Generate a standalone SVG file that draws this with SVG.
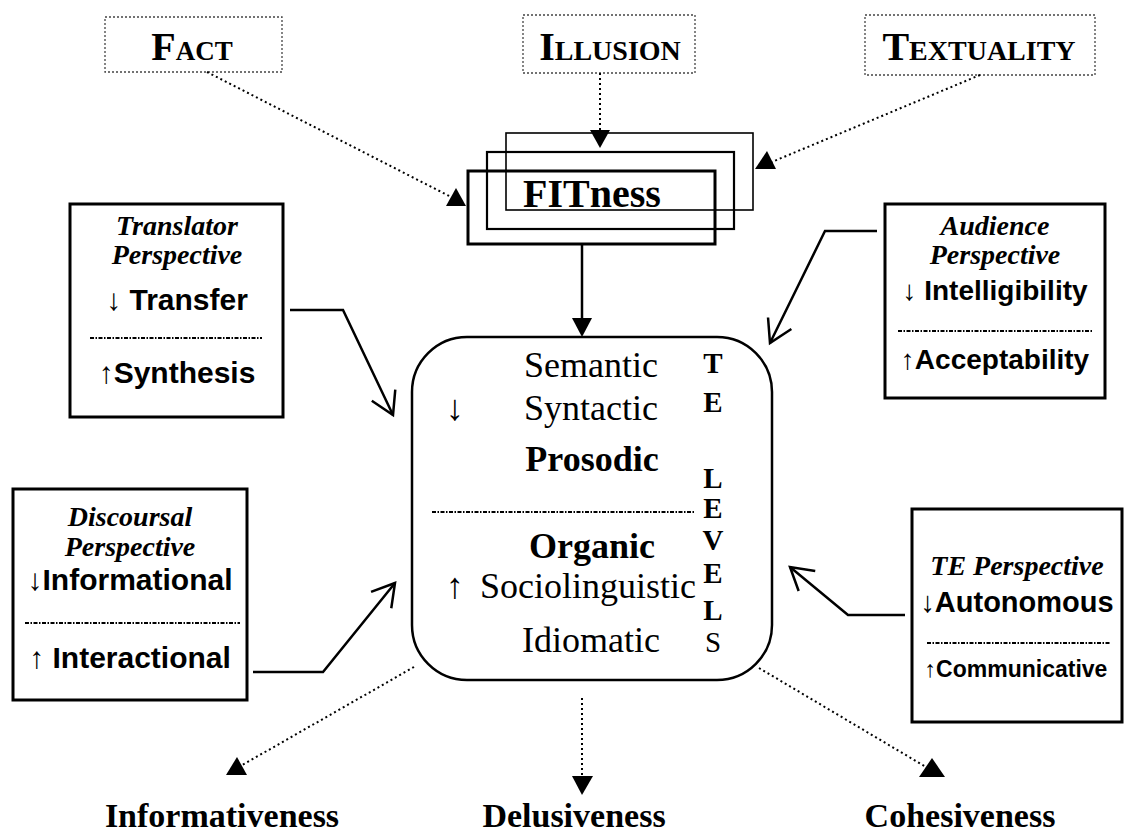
<svg xmlns="http://www.w3.org/2000/svg" width="1126" height="837" viewBox="0 0 1126 837">
<defs>
<style>
.lbl{fill:none;stroke:#444;stroke-width:1.3;stroke-dasharray:2 2}
.box{fill:none;stroke:#000;stroke-width:3}
.sep{stroke:#000;stroke-width:2.2;stroke-dasharray:4 1.5 1.5 1.5}
.dot{fill:none;stroke:#000;stroke-width:2;stroke-dasharray:2 3}
.solid{fill:none;stroke:#000;stroke-width:2.5}
.fit{fill:none;stroke:#000}
.tri{fill:#000}
.cap{font-family:"Liberation Serif","Times New Roman",serif;font-weight:bold;fill:#000;text-anchor:middle}
.ital{font-family:"Liberation Serif","Times New Roman",serif;font-style:italic;font-weight:bold;font-size:28px;text-anchor:middle}
.sans{font-family:"Liberation Sans",Arial,"DejaVu Sans",sans-serif;font-weight:bold;font-size:30px;text-anchor:middle}
.ser{font-family:"Liberation Serif","Times New Roman","DejaVu Serif",serif;font-size:36px;text-anchor:middle}
.lev{font-family:"Liberation Serif","Times New Roman",serif;font-weight:bold;font-size:29px;text-anchor:middle}
.out{font-family:"Liberation Serif","Times New Roman",serif;font-weight:bold;font-size:34px;text-anchor:middle}
</style>
<marker id="open" viewBox="0 0 26 30" refX="24" refY="15" markerWidth="26" markerHeight="30" markerUnits="userSpaceOnUse" orient="auto" overflow="visible">
<path d="M2,2 L24,15 L2,28" fill="none" stroke="#000" stroke-width="2.5"/>
</marker>
</defs>
<rect width="1126" height="837" fill="#fff"/>

<g id="fact">
<rect class="lbl" x="105" y="17" width="177" height="55"/>
<text class="cap" x="192" y="60"><tspan font-size="40">F</tspan><tspan font-size="27">ACT</tspan></text>
</g>
<g id="illusion">
<rect class="lbl" x="523" y="15" width="172" height="58"/>
<text class="cap" x="610" y="60"><tspan font-size="40">I</tspan><tspan font-size="28">LLUSION</tspan></text>
</g>
<g id="textuality">
<rect class="lbl" x="865" y="15" width="230" height="60"/>
<text class="cap" x="979" y="60"><tspan font-size="40">T</tspan><tspan font-size="28">EXTUALITY</tspan></text>
</g>

<g id="fitness">
<rect class="fit" x="506" y="133" width="247" height="77" stroke-width="1.6"/>
<rect class="fit" x="487" y="152" width="247" height="77" stroke-width="2.2"/>
<rect class="fit" x="468" y="171" width="247" height="73" stroke-width="3"/>
<text class="cap" x="592" y="207" font-size="40">FITness</text>
</g>

<g id="translator">
<rect class="box" x="70" y="204" width="213" height="213"/>
<text class="ital" x="177" y="235">Translator</text>
<text class="ital" x="177" y="264">Perspective</text>
<text class="sans" x="177" y="310">↓ Transfer</text>
<line class="sep" x1="90" y1="338" x2="262" y2="338"/>
<text class="sans" x="177" y="383">↑Synthesis</text>
</g>

<g id="audience">
<rect class="box" x="885" y="204" width="220" height="194"/>
<text class="ital" x="995" y="235">Audience</text>
<text class="ital" x="995" y="264">Perspective</text>
<text class="sans" x="995" y="300" style="font-size:28px">↓ Intelligibility</text>
<line class="sep" x1="898" y1="331" x2="1093" y2="331"/>
<text class="sans" x="995" y="369" style="font-size:28px">↑Acceptability</text>
</g>

<g id="discoursal">
<rect class="box" x="13" y="489" width="234" height="211"/>
<text class="ital" x="130" y="526">Discoursal</text>
<text class="ital" x="130" y="556">Perspective</text>
<text class="sans" x="130" y="590">↓Informational</text>
<line class="sep" x1="25" y1="623" x2="240" y2="623"/>
<text class="sans" x="130" y="668">↑ Interactional</text>
</g>

<g id="te-perspective">
<rect class="box" x="912" y="509" width="210" height="213"/>
<text class="ital" x="1017" y="575">TE Perspective</text>
<text class="sans" x="1017" y="612" style="font-size:29px">↓Autonomous</text>
<line class="sep" x1="927" y1="643" x2="1110" y2="643"/>
<text class="sans" x="1016" y="677" style="font-size:23px">↑Communicative</text>
</g>

<g id="te-levels">
<rect x="412" y="337" width="360" height="343" rx="55" fill="none" stroke="#000" stroke-width="2.5"/>
<text class="ser" x="591" y="377">Semantic</text>
<text class="ser" x="455" y="420">↓</text>
<text class="ser" x="591" y="420">Syntactic</text>
<text class="ser" x="592" y="471" style="font-weight:bold">Prosodic</text>
<line class="sep" x1="432" y1="512" x2="695" y2="512"/>
<text class="ser" x="592" y="558" style="font-weight:bold">Organic</text>
<text class="ser" x="455" y="598">↑</text>
<text class="ser" x="588" y="598">Sociolinguistic</text>
<text class="ser" x="591" y="652">Idiomatic</text>
<text class="lev" x="713" y="373">T</text>
<text class="lev" x="713" y="412">E</text>
<text class="lev" x="713" y="488">L</text>
<text class="lev" x="713" y="518">E</text>
<text class="lev" x="713" y="550">V</text>
<text class="lev" x="713" y="583">E</text>
<text class="lev" x="713" y="620">L</text>
<text class="lev" x="713" y="652" style="font-weight:normal">S</text>
</g>

<g id="informativeness"><text class="out" x="222" y="827">Informativeness</text></g>
<g id="delusiveness"><text class="out" x="574" y="827">Delusiveness</text></g>
<g id="cohesiveness"><text class="out" x="960" y="827">Cohesiveness</text></g>

<g id="connectors">
<line class="dot" x1="207" y1="72" x2="455" y2="199"/>
<polygon class="tri" points="446,206 466,206 456,188"/>
<line class="dot" x1="600" y1="73" x2="600" y2="132"/>
<polygon class="tri" points="590,130 610,130 600,148"/>
<line class="dot" x1="980" y1="75" x2="767" y2="164"/>
<polygon class="tri" points="755,169 776,169 767,151"/>
<line class="solid" x1="582" y1="244" x2="582" y2="320"/>
<polygon class="tri" points="572,318 592,318 582,337"/>
<polyline class="solid" points="290,310 343,310 393,415" marker-end="url(#open)"/>
<polyline class="solid" points="877,231 825,231 770,343" marker-end="url(#open)"/>
<polyline class="solid" points="253,672 323,672 395,583" marker-end="url(#open)"/>
<polyline class="solid" points="905,615 848,615 790,567" marker-end="url(#open)"/>
<line class="dot" x1="414" y1="667" x2="237" y2="768"/>
<polygon class="tri" points="226,775 247,775 237,757"/>
<line class="dot" x1="582" y1="698" x2="582" y2="777"/>
<polygon class="tri" points="572,776 593,776 582,795"/>
<line class="dot" x1="759" y1="668" x2="931" y2="770"/>
<polygon class="tri" points="919,777 945,777 932,758"/>
</g>
</svg>
